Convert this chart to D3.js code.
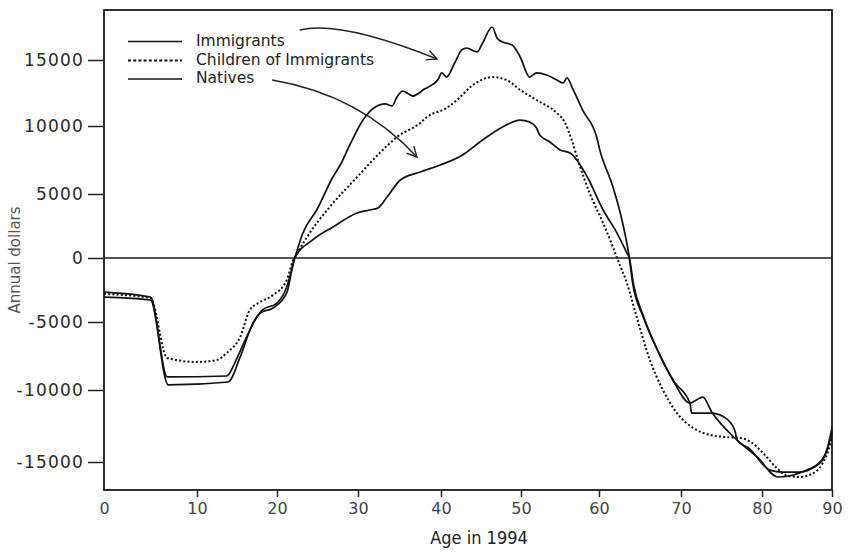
<!DOCTYPE html>
<html>
<head>
<meta charset="utf-8">
<script src="https://cdn.jsdelivr.net/npm/d3@7"></script>
<style>
  body { margin: 0; background: #fff; }
</style>
</head>
<body>
<div id="grafico"></div>
<script>
// Net fiscal impact by age (annual dollars), 1994
var width = 849;
var height = 556;

// Tick values
var xTicks = [0, 10, 20, 30, 40, 50, 60, 70, 80, 90];
var yTicks = [15000, 10000, 5000, 0, -5000, -10000, -15000];

// Series: [age, dollars]
var immigrants = [
  [0, -2660], [5, -3050], [6.8, -9040], [13.7, -8970], [15, -7650], [16.2, -6100],
  [17.5, -4610], [18.2, -4060], [20, -3520], [21.2, -2270], [22.2, 0],
  [23.2, 1950], [24.9, 3750], [26.9, 6250], [27.8, 7130], [29.1, 8750], [30.6, 10450],
  [31.9, 11360], [33.3, 11670], [34.1, 11520], [34.7, 12200], [35.4, 12650], [36.1, 12420],
  [36.6, 12270], [38.0, 12800], [39.6, 13480], [40.1, 14020], [40.7, 13710], [41.7, 14770],
  [42.6, 15760], [43.2, 15910], [44.5, 15610], [45.2, 16290], [46.4, 17500], [47.0, 16670],
  [47.7, 16360], [48.9, 16140], [49.9, 15230], [51.1, 13710], [52.0, 14020], [53.3, 13860],
  [54.6, 13480], [55.4, 13260], [55.9, 13640], [56.7, 12730], [57.9, 11210], [59.7, 9190],
  [60.1, 8240], [61.7, 5510], [62.8, 2970], [63.7, 0],
  [64.1, -1950], [65.4, -4610], [67.1, -7060], [69.0, -9260], [71.1, -10900], [72.7, -10490],
  [73.8, -11530], [76.9, -13470], [79.4, -14650], [82.3, -16040], [84.5, -15900],
  [86.4, -15560], [88.3, -15070], [89.4, -13960], [90, -12640]
];

var children = [
  [0, -2810], [5, -3130], [6.8, -7650], [10, -7940], [12.5, -7790], [13.7, -7280],
  [15.4, -6100], [16.6, -4060], [17.9, -3440], [19.5, -2890], [21.2, -1720], [22.0, -160],
  [22.5, 390], [23.7, 1640], [26.5, 3980], [29.9, 6250], [32.6, 8010], [34.7, 9190],
  [37.5, 10230], [38.3, 10680], [40.7, 11360], [42.0, 11970], [44.0, 13110], [46.5, 13710],
  [48.2, 13480], [49.9, 12730], [52.0, 11970], [54.6, 10980], [55.6, 10300], [56.5, 8970],
  [57.5, 7130], [58.8, 5070], [60.5, 2730], [61.6, 1020], [62.2, 0],
  [63.4, -1950], [64.6, -4610], [66.2, -7790], [67.8, -10000], [69.5, -11600], [71.5, -12640],
  [73.6, -13120], [75.4, -13260], [77.3, -13330], [78.8, -13680], [80.4, -14510],
  [82.1, -15420], [83.7, -15970], [85.4, -16040], [87.1, -15830], [88.6, -15140],
  [89.7, -13820], [90, -13190]
];

var natives = [
  [0, -3050], [5, -3280], [6.9, -9630], [13.9, -9410], [15.4, -7570], [17.0, -5070],
  [17.9, -4300], [19.5, -3910], [21.2, -2730], [22.2, 0],
  [24.4, 1410], [26.9, 2420], [29.9, 3520], [31.4, 3750], [32.4, 3910], [33.5, 4770],
  [35.1, 6030], [37.5, 6620], [39.9, 7130], [42.7, 7870], [45.2, 8970], [47.7, 9930],
  [49.9, 10450], [51.1, 10300], [52.0, 9850], [52.4, 9340], [53.7, 8820], [55.0, 8240],
  [56.3, 8010], [58.5, 6250], [60.5, 3750], [62.2, 1950], [63.4, 390], [63.7, 0],
  [64.2, -2030], [65.5, -4690], [67.2, -7130], [69.1, -9340], [71.1, -10900], [71.3, -11600],
  [73.8, -11600], [75.8, -12080], [76.7, -12920], [76.9, -13470], [78.5, -14100],
  [81.1, -15560], [83.0, -15700], [85.4, -15700], [87.6, -15280], [89.0, -14510], [90, -12920]
];

var seriesNames = ["Immigrants", "Children of Immigrants", "Natives"];

// Arrows from the legend labels to the curves: [age, dollars]
var arrows = [
  { from: [22.8, 17270], via: [27.8, 18030], to: [39.5, 15080] },
  { from: [19.4, 13480], via: [30.2, 12350], to: [37.1, 7720] }
];

var svg = d3.select("#grafico")
    .append("svg")
    .attr("width", width)
    .attr("height", height);

// Scales, calibrated on the tick positions of the printed axes
var x = d3.scaleLinear()
    .domain(xTicks)
    .range([104, 197, 277, 358, 441, 521, 599, 681, 762, 832]);

var y = d3.scaleLinear()
    .domain(yTicks)
    .range([60, 126, 194, 258, 322, 390, 462]);

var plotTop = 10, plotBottom = 490;

svg.append("defs").append("marker")
    .attr("id", "flecha")
    .attr("markerUnits", "userSpaceOnUse")
    .attr("viewBox", "-12 -7 14 14")
    .attr("markerWidth", 14)
    .attr("markerHeight", 14)
    .attr("refX", 0)
    .attr("refY", 0)
    .attr("orient", "auto")
    .append("path")
    .attr("d", "M-10,-5 L0,0 L-10,5")
    .attr("fill", "none")
    .attr("stroke", "#222")
    .attr("stroke-width", 1.4);

// Frame
svg.append("rect")
    .attr("x", x(0))
    .attr("y", plotTop)
    .attr("width", x(90) - x(0))
    .attr("height", plotBottom - plotTop)
    .attr("fill", "none")
    .attr("stroke", "#1a1a1a")
    .attr("stroke-width", 1.8);

// Zero line
svg.append("line")
    .attr("x1", x(0))
    .attr("x2", x(90))
    .attr("y1", y(0))
    .attr("y2", y(0))
    .attr("stroke", "#1a1a1a")
    .attr("stroke-width", 1.6);

// Y axis
var yAxis = d3.axisLeft(y)
    .tickValues(yTicks)
    .tickSize(16)
    .tickPadding(4)
    .tickFormat(function(d) { return String(d); });

var gy = svg.append("g")
    .attr("transform", "translate(" + x(0) + ",0)")
    .call(yAxis);
gy.select(".domain").remove();
gy.selectAll(".tick line").attr("stroke", "#222").attr("stroke-width", 1.5);
gy.selectAll(".tick text")
    .attr("font-family", "DejaVu Sans, sans-serif")
    .attr("font-size", 17)
    .attr("letter-spacing", 1.2)
    .attr("fill", "#2a2a2a");

// X axis
var xAxis = d3.axisBottom(x)
    .tickValues(xTicks)
    .tickSize(7)
    .tickPadding(6);

var gx = svg.append("g")
    .attr("transform", "translate(0," + plotBottom + ")")
    .call(xAxis);
gx.select(".domain").remove();
gx.selectAll(".tick line")
    .attr("stroke", "#222")
    .attr("stroke-width", 1.5)
    .attr("opacity", function(d) { return d === 0 ? 0 : 1; });
gx.selectAll(".tick text")
    .attr("font-family", "DejaVu Sans, sans-serif")
    .attr("font-size", 16)
    .attr("fill", "#444");

// Axis titles
svg.append("text")
    .attr("x", 479)
    .attr("y", 544)
    .attr("text-anchor", "middle")
    .attr("font-family", "DejaVu Sans Condensed, DejaVu Sans, sans-serif")
    .attr("font-size", 18)
    .attr("fill", "#222")
    .text("Age in 1994");

svg.append("text")
    .attr("transform", "translate(20,260) rotate(-90)")
    .attr("text-anchor", "middle")
    .attr("font-family", "DejaVu Sans, sans-serif")
    .attr("font-size", 15)
    .attr("fill", "#555")
    .text("Annual dollars");

// Curves
var line = d3.line()
    .x(function(d) { return x(d[0]); })
    .y(function(d) { return y(d[1]); })
    .curve(d3.curveMonotoneX);

var estilos = [
    { datos: immigrants, dash: null },
    { datos: children, dash: "2,2.2" },
    { datos: natives, dash: null }
];

svg.selectAll(".serie")
    .data(estilos)
    .enter()
    .append("path")
    .attr("class", "serie")
    .attr("d", function(d) { return line(d.datos); })
    .attr("fill", "none")
    .attr("stroke", "#111")
    .attr("stroke-width", function(d) { return d.dash ? 2 : 1.7; })
    .attr("stroke-dasharray", function(d) { return d.dash; })
    .attr("stroke-linejoin", "round");

// Legend
var legend = svg.append("g");
var filas = legend.selectAll("g")
    .data(seriesNames)
    .enter()
    .append("g")
    .attr("transform", function(d, i) { return "translate(0," + [41.5, 60.5, 79][i] + ")"; });

filas.append("line")
    .attr("x1", 128)
    .attr("x2", 182)
    .attr("stroke", "#111")
    .attr("stroke-width", function(d, i) { return i === 1 ? 1.8 : 1.6; })
    .attr("stroke-dasharray", function(d, i) { return i === 1 ? "3,2.2" : null; });

filas.append("text")
    .attr("x", 196)
    .attr("y", 4)
    .attr("font-family", "DejaVu Sans, sans-serif")
    .attr("font-size", 15.5)
    .attr("fill", "#222")
    .text(function(d) { return d; });

// Arrows
svg.selectAll(".flecha")
    .data(arrows)
    .enter()
    .append("path")
    .attr("class", "flecha")
    .attr("d", function(d) {
        return "M" + x(d.from[0]) + "," + y(d.from[1]) +
               " Q" + x(d.via[0]) + "," + y(d.via[1]) +
               " " + x(d.to[0]) + "," + y(d.to[1]);
    })
    .attr("fill", "none")
    .attr("stroke", "#222")
    .attr("stroke-width", 1.4)
    .attr("marker-end", "url(#flecha)");
</script>
</body>
</html>
